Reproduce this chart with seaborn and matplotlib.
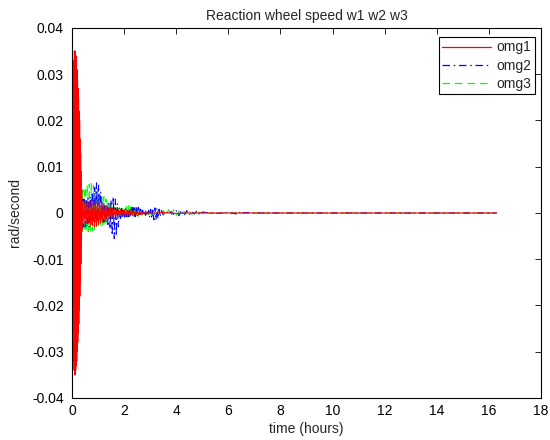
import matplotlib
matplotlib.use("Agg")
import matplotlib.pyplot as plt
import seaborn as sns
import pandas as pd

# ---- data ----
# sample times shared by all three series (hours)
t_early = [0.00,0.01,0.02,0.03,0.04,0.05,0.06,0.07,0.08,0.09,
           0.10,0.11,0.12,0.13,0.14,0.15,0.16,0.17,0.18,0.19,
           0.20,0.21,0.22,0.23,0.24,0.25,0.26,0.27,0.28,0.29,
           0.30,0.31,0.32,0.33,0.34,0.35,0.36,0.37,0.38]
t_mid = [0.42,0.46,0.50,0.54,0.58,0.62,0.66,0.70,0.74,0.78,
         0.82,0.86,0.90,0.94,0.98,1.02,1.06,1.10,1.14,1.18,
         1.22,1.26,1.30,1.34,1.38,1.42,1.46,1.50,1.54,1.58,
         1.62,1.66,1.70,1.74,1.78,1.82,1.86,1.90,1.94,1.98,
         2.02,2.06,2.10,2.14,2.18,2.22,2.26,2.30,2.34,2.38,
         2.42,2.46,2.50,2.54,2.58,2.62,2.66,2.70,2.74,2.78,
         2.82,2.86,2.90,2.94,2.98,3.02]

# omg1 (red)
omg1_early = [0.000,0.022,-0.024,0.027,-0.028,0.031,-0.032,0.033,-0.034,0.035,
              -0.035,0.035,-0.035,0.035,-0.034,0.034,-0.033,0.033,-0.032,0.031,
              -0.030,0.029,-0.028,0.027,-0.026,0.025,-0.024,0.022,-0.021,0.020,
              -0.018,0.016,-0.015,0.013,-0.011,0.009,-0.007,0.005,-0.004]
omg1_mid = [0.0025,-0.002,0.0022,-0.0022,0.0024,-0.0024,0.0026,-0.0026,0.0027,-0.0028,
            0.0028,-0.003,0.0028,-0.0028,0.0026,-0.0025,0.0024,-0.0022,0.002,-0.0019,
            0.0017,-0.0016,0.0015,-0.0014,0.0013,-0.0012,0.0012,-0.0011,0.001,-0.001,
            0.0009,-0.0009,0.0008,-0.0008,0.0008,-0.0007,0.0007,-0.0007,0.0006,-0.0006,
            0.0006,-0.0006,0.0005,-0.0005,0.0005,-0.0005,0.0005,-0.0004,0.0004,-0.0004,
            0.0004,-0.0004,0.0003,-0.0003,0.0003,-0.0003,0.0003,-0.0003,0.0002,-0.0002,
            0.0002,-0.0002,0.0002,-0.0002,0.0001,-0.0001]
t_omg1_tail = [3.5, 4.0, 4.5, 16.3]
omg1_tail = [0.0001, -0.0001, 0.0, 0.0]

# omg2 (blue)
omg2_early = [0.000,-0.010,0.012,-0.014,0.015,-0.016,0.017,-0.017,0.017,-0.017,
              0.016,-0.016,0.015,-0.015,0.013,-0.013,0.012,-0.012,0.010,-0.010,
              0.009,-0.009,0.008,-0.008,0.007,-0.007,0.006,-0.006,0.005,-0.005,
              0.0045,-0.0045,0.004,-0.004,0.004,-0.0035,0.0035,-0.0035,0.003]
omg2_mid = [-0.003,0.003,-0.003,0.003,-0.003,0.0032,-0.003,0.0035,-0.0025,0.0045,
            -0.002,0.0055,-0.002,0.0065,-0.0018,0.006,-0.0015,0.0045,-0.0015,0.0025,
            -0.002,0.002,-0.002,0.0018,-0.0025,0.002,-0.0035,0.0028,-0.0048,0.0035,
            -0.0055,0.003,-0.005,0.002,-0.003,0.0012,-0.0015,0.001,-0.001,0.001,
            -0.0009,0.0009,-0.0008,0.0009,-0.0008,0.001,-0.0008,0.0012,-0.0008,0.0015,
            -0.0008,0.0014,-0.0008,0.0012,-0.0007,0.0008,-0.0006,0.0006,-0.0005,0.0005,
            -0.0005,0.0005,-0.0006,0.0006,-0.0008,0.0008]
t_omg2_tail = [3.06,3.10,3.14,3.18,3.22,3.26,3.30,3.34,3.38,3.42,
               3.50,3.60,3.70,3.80,3.90,4.00,4.10,4.20,4.30,4.40,
               4.50,4.60,4.70,4.80,4.90,5.00,5.50,6.00,6.30,6.40,
               6.50,6.60,7.00,16.3]
omg2_tail = [-0.0012,0.001,-0.0015,0.0011,-0.0015,0.001,-0.0012,0.0008,-0.0008,0.0005,
             -0.0004,0.0003,-0.0003,0.0003,-0.0003,0.0005,-0.0006,0.0006,-0.0006,0.0005,
             -0.0004,0.0003,-0.0002,0.0005,-0.0004,0.0002,-0.0001,0.0001,-0.0002,0.0003,
             -0.0002,0.0001,0.0,0.0]

# omg3 (green)
omg3_early = [0.000,0.008,-0.010,0.011,-0.013,0.012,-0.015,0.012,-0.015,0.012,
              -0.014,0.011,-0.013,0.010,-0.012,0.009,-0.011,0.008,-0.010,0.008,
              -0.009,0.007,-0.008,0.007,-0.007,0.006,-0.006,0.006,-0.005,0.005,
              -0.005,0.005,-0.0045,0.005,-0.0045,0.005,-0.004,0.005,-0.004]
omg3_mid = [0.005,-0.004,0.0055,-0.004,0.006,-0.004,0.0062,-0.004,0.0065,-0.0038,
            0.006,-0.0035,0.0055,-0.0035,0.005,-0.003,0.0045,-0.003,0.004,-0.003,
            0.0035,-0.0025,0.003,-0.002,0.0022,-0.0018,0.0018,-0.0015,0.0015,-0.0013,
            0.0013,-0.0012,0.0012,-0.001,0.001,-0.001,0.0009,-0.0009,0.0009,-0.0009,
            0.0012,-0.0009,0.0014,-0.0009,0.0016,-0.0009,0.0017,-0.0009,0.0016,-0.0009,
            0.0015,-0.0008,0.0012,-0.0007,0.001,-0.0006,0.0007,-0.0005,0.0005,-0.0005,
            0.0005,-0.0004,0.0004,-0.0004,0.0004,-0.0004]
t_omg3_tail = [3.10,3.20,3.30,3.40,3.50,3.60,3.70,3.80,3.90,4.00,
               4.10,4.20,4.30,4.40,4.50,4.60,4.70,4.80,4.90,5.00,
               5.50,16.3]
omg3_tail = [0.0004,-0.0004,0.0005,-0.0005,0.0006,-0.0006,0.0007,-0.0006,0.0007,-0.0005,
             0.0004,-0.0004,0.0003,-0.0003,0.0003,-0.0003,0.0002,-0.0002,0.0002,-0.0001,
             0.0,0.0]

series_names = ["omg1", "omg2", "omg3"]
title = "Reaction wheel speed w1 w2 w3"
xlabel = "time (hours)"
ylabel = "rad/second"
xticks = [0, 2, 4, 6, 8, 10, 12, 14, 16, 18]
yticks = [-0.04, -0.03, -0.02, -0.01, 0, 0.01, 0.02, 0.03, 0.04]
ytick_labels = ["-0.04", "-0.03", "-0.02", "-0.01", "0", "0.01", "0.02", "0.03", "0.04"]

# ---- assemble long tables ----
frames = {}
for name, tt, vv in [
    ("omg1", t_early + t_mid + t_omg1_tail, omg1_early + omg1_mid + omg1_tail),
    ("omg2", t_early + t_mid + t_omg2_tail, omg2_early + omg2_mid + omg2_tail),
    ("omg3", t_early + t_mid + t_omg3_tail, omg3_early + omg3_mid + omg3_tail),
]:
    frames[name] = pd.DataFrame({"t": tt, "v": vv})

# ---- plotting ----
sns.set_style("white")
plt.rcParams["font.family"] = ["Liberation Sans", "DejaVu Sans"]

fig = plt.figure(figsize=(5.5, 4.4), dpi=100)
ax = fig.add_axes([0.131, 0.0955, 0.8526, 0.8409])

styles = {"omg1": ("#ff0000", "-", 2.3),
          "omg2": ("#0000ff", (0, (6, 3, 1.2, 3)), 2.2),
          "omg3": ("#00ff00", (0, (6, 4)), 2.1)}
for name in series_names:
    col, ls, z = styles[name]
    sns.lineplot(data=frames[name], x="t", y="v", ax=ax, color=col, linestyle=ls,
                 linewidth=0.8, estimator=None, sort=False, label=name, zorder=z)

ax.set_xlim(0, 18)
ax.set_ylim(-0.04, 0.04)
ax.set_xticks(xticks)
ax.set_yticks(yticks)
ax.set_yticklabels(ytick_labels)
ax.tick_params(direction="in", length=4, width=0.6, top=True, right=True,
               labelsize=10, colors="black")
ax.tick_params(axis="y", pad=6)
ax.tick_params(axis="x", pad=4)
for s in ax.spines.values():
    s.set_visible(True)
    s.set_color("black")
    s.set_linewidth(0.8)
ax.set_title(title, fontsize=10, pad=6)
ax.set_xlabel(xlabel, fontsize=10, labelpad=3)
ax.set_ylabel(ylabel, fontsize=10, labelpad=7)

leg = ax.legend(loc="upper right", bbox_to_anchor=(0.9872, 0.9757), borderaxespad=0,
                fontsize=10, frameon=True, fancybox=False,
                edgecolor="black", framealpha=1,
                handlelength=3.5, labelspacing=0.3, borderpad=0.25, handletextpad=0.4)
leg.get_frame().set_linewidth(0.8)
for line in leg.get_lines():
    line.set_linewidth(0.9)

fig.savefig("out.png", dpi=100)
